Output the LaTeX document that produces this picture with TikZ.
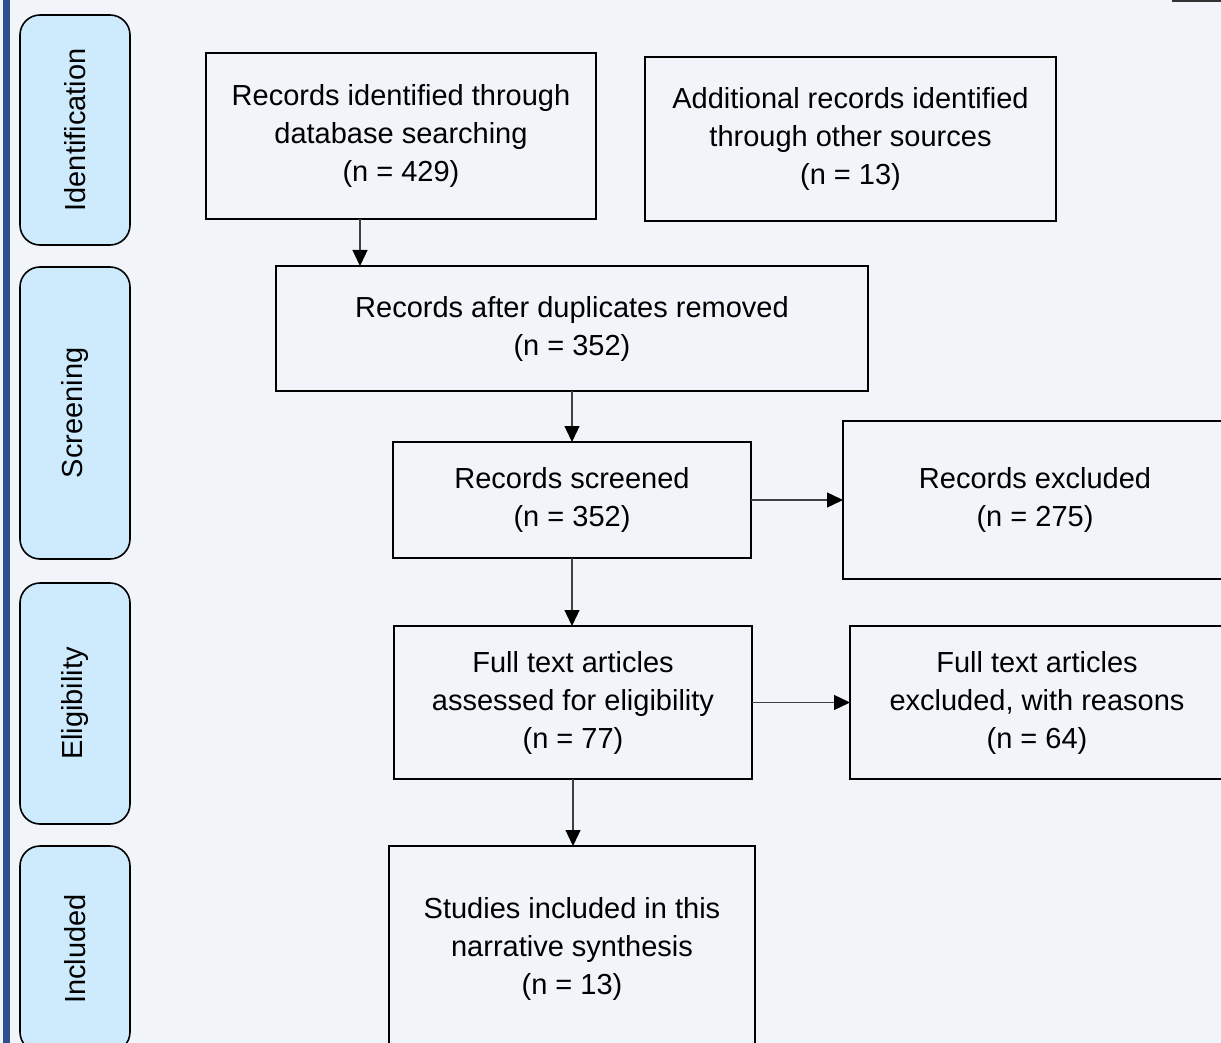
\documentclass[tikz,border=0pt]{standalone}
\usepackage{fontspec}
\setmainfont{Liberation Sans}
\usetikzlibrary{arrows.meta}
\usepackage{xcolor}
\definecolor{PanelBlue}{HTML}{CDEBFD}
\definecolor{BarBlue}{HTML}{2E5090}
\definecolor{PageGray}{HTML}{F1F4F9}
\tikzset{
  stage/.style={draw, line width=1.6pt, inner sep=0pt, outer sep=0pt, align=center,
    font=\fontsize{29}{38}\selectfont},
  phase/.style={draw, line width=1.6pt, fill=PanelBlue, rounded corners=20pt, rotate=90,
    minimum height=110pt, inner sep=0pt, outer sep=0pt, font=\fontsize{29}{38}\selectfont},
  flow/.style={-{Triangle[length=16pt,width=15pt,color=black]}, line width=1.3pt, draw=black!75}
}

\begin{document}
\begin{tikzpicture}[x=1pt,y=-1pt]
                % Page
                \useasboundingbox (0,0) rectangle (1221,1043);
                \fill[PageGray] (0,0) rectangle (1221,1043);
                \fill[BarBlue] (3,0) rectangle (10,1043);
                \draw[line width=3pt, black!80] (1172,1) -- (1221,1);

                % Phase labels
                \node[phase, minimum width=230pt] (sideId) at (75,130) {Identification};
                \node[phase, minimum width=292pt] (sideScr) at (75,413) {Screening};
                \node[phase, minimum width=241pt] (sideElig) at (75,703.5) {Eligibility};
                \node[phase, minimum width=206pt] (sideInc) at (75,949) {Included};

                % Identification level
                \node[stage, minimum width=390pt, minimum height=166pt] (ident) at (401,136)
                    {Records identified through\\database searching\\(n = 429)};
                \node[stage, minimum width=411pt, minimum height=164pt] (other) at (850.5,139)
                    {Additional records identified\\through other sources\\(n = 13)};

                % Screening level
                \node[stage, minimum width=592pt, minimum height=125pt] (dedup) at (572,328.5)
                    {Records after duplicates removed\\(n = 352)};
                \node[stage, minimum width=358pt, minimum height=116pt] (screen) at (572,500)
                    {Records screened\\(n = 352)};
                \node[stage, minimum width=384pt, minimum height=158pt] (excl) at (1035,500)
                    {Records excluded\\(n = 275)};

                % Eligibility level
                \node[stage, minimum width=358pt, minimum height=153pt] (fulltext) at (573,702.5)
                    {Full text articles\\assessed for eligibility\\(n = 77)};
                \node[stage, minimum width=374pt, minimum height=153pt] (ftexcl) at (1037,702.5)
                    {Full text articles\\excluded, with reasons\\(n = 64)};

                % Included level
                \node[stage, minimum width=366pt, minimum height=206pt] (incl) at (572,949)
                    {Studies included in this\\narrative synthesis\\(n = 13)};

                % Arrows
                \draw[flow] ([xshift=-41pt]ident.south) -- ([xshift=-41pt]ident.south |- dedup.north);
                \draw[flow] (dedup.south) -- (screen.north);
                \draw[flow] (screen.east) -- (excl.west);
                \draw[flow] (screen.south) -- (screen.south |- fulltext.north);
                \draw[flow] (fulltext.east) -- (ftexcl.west);
                \draw[flow] (fulltext.south) -- (fulltext.south |- incl.north);
            \end{tikzpicture}
\end{document}
